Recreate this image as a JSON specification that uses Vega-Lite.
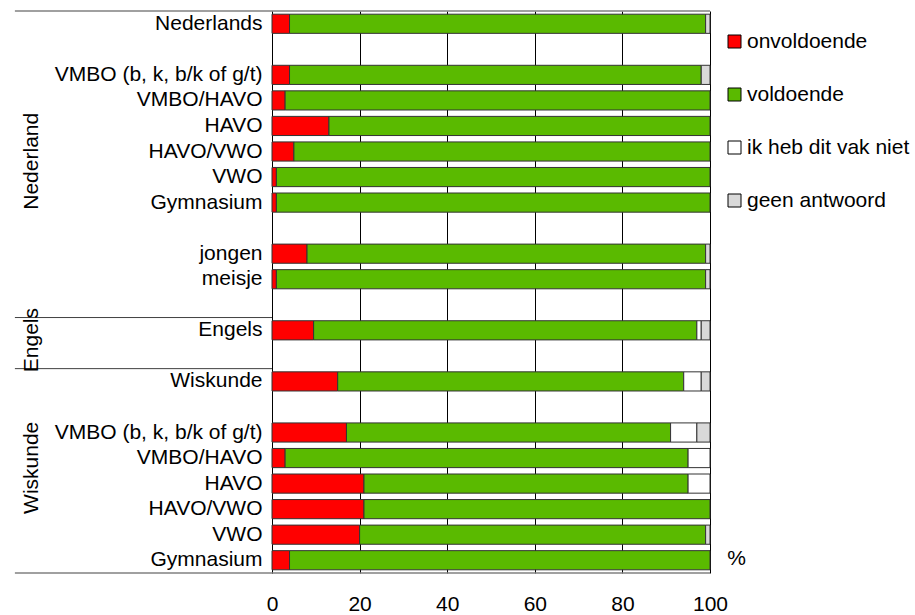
{
  "$schema": "https://vega.github.io/schema/vega-lite/v6.json",
  "width": 438,
  "height": 562,
  "padding": {"left": 14, "top": 10, "right": 0, "bottom": 0},
  "background": "white",
  "config": {
    "font": "Liberation Sans",
    "view": {"stroke": null},
    "text": {"font": "Liberation Sans"}
  },
  "datasets": {
    "bars": [
      {"row": "01 Nederlands", "cat": "onvoldoende", "val": 4},
      {"row": "01 Nederlands", "cat": "voldoende", "val": 95},
      {"row": "01 Nederlands", "cat": "geen antwoord", "val": 1},
      {"row": "03 VMBO (b, k, b/k of g/t)", "cat": "onvoldoende", "val": 4},
      {"row": "03 VMBO (b, k, b/k of g/t)", "cat": "voldoende", "val": 94},
      {"row": "03 VMBO (b, k, b/k of g/t)", "cat": "geen antwoord", "val": 2},
      {"row": "04 VMBO/HAVO", "cat": "onvoldoende", "val": 3},
      {"row": "04 VMBO/HAVO", "cat": "voldoende", "val": 97},
      {"row": "05 HAVO", "cat": "onvoldoende", "val": 13},
      {"row": "05 HAVO", "cat": "voldoende", "val": 87},
      {"row": "06 HAVO/VWO", "cat": "onvoldoende", "val": 5},
      {"row": "06 HAVO/VWO", "cat": "voldoende", "val": 95},
      {"row": "07 VWO", "cat": "onvoldoende", "val": 1},
      {"row": "07 VWO", "cat": "voldoende", "val": 99},
      {"row": "08 Gymnasium", "cat": "onvoldoende", "val": 1},
      {"row": "08 Gymnasium", "cat": "voldoende", "val": 99},
      {"row": "10 jongen", "cat": "onvoldoende", "val": 8},
      {"row": "10 jongen", "cat": "voldoende", "val": 91},
      {"row": "10 jongen", "cat": "geen antwoord", "val": 1},
      {"row": "11 meisje", "cat": "onvoldoende", "val": 1},
      {"row": "11 meisje", "cat": "voldoende", "val": 98},
      {"row": "11 meisje", "cat": "geen antwoord", "val": 1},
      {"row": "13 Engels", "cat": "onvoldoende", "val": 9.5},
      {"row": "13 Engels", "cat": "voldoende", "val": 87.5},
      {"row": "13 Engels", "cat": "ik heb dit vak niet", "val": 1},
      {"row": "13 Engels", "cat": "geen antwoord", "val": 2},
      {"row": "15 Wiskunde", "cat": "onvoldoende", "val": 15},
      {"row": "15 Wiskunde", "cat": "voldoende", "val": 79},
      {"row": "15 Wiskunde", "cat": "ik heb dit vak niet", "val": 4},
      {"row": "15 Wiskunde", "cat": "geen antwoord", "val": 2},
      {"row": "17 VMBO (b, k, b/k of g/t)", "cat": "onvoldoende", "val": 17},
      {"row": "17 VMBO (b, k, b/k of g/t)", "cat": "voldoende", "val": 74},
      {"row": "17 VMBO (b, k, b/k of g/t)", "cat": "ik heb dit vak niet", "val": 6},
      {"row": "17 VMBO (b, k, b/k of g/t)", "cat": "geen antwoord", "val": 3},
      {"row": "18 VMBO/HAVO", "cat": "onvoldoende", "val": 3},
      {"row": "18 VMBO/HAVO", "cat": "voldoende", "val": 92},
      {"row": "18 VMBO/HAVO", "cat": "ik heb dit vak niet", "val": 5},
      {"row": "19 HAVO", "cat": "onvoldoende", "val": 21},
      {"row": "19 HAVO", "cat": "voldoende", "val": 74},
      {"row": "19 HAVO", "cat": "ik heb dit vak niet", "val": 5},
      {"row": "20 HAVO/VWO", "cat": "onvoldoende", "val": 21},
      {"row": "20 HAVO/VWO", "cat": "voldoende", "val": 79},
      {"row": "21 VWO", "cat": "onvoldoende", "val": 20},
      {"row": "21 VWO", "cat": "voldoende", "val": 79},
      {"row": "21 VWO", "cat": "geen antwoord", "val": 1},
      {"row": "22 Gymnasium", "cat": "onvoldoende", "val": 4},
      {"row": "22 Gymnasium", "cat": "voldoende", "val": 96}
    ],
    "groups": [
      {"group": "Nederland", "row": "07 VWO"},
      {"group": "Engels", "row": "14"},
      {"group": "Wiskunde", "row": "19 HAVO"}
    ],
    "seps": [
      {"row": "13 Engels"},
      {"row": "15 Wiskunde"}
    ],
    "top": [{"row": "01 Nederlands"}],
    "bottom": [{"row": "22 Gymnasium"}]
  },
  "layer": [
    {
      "data": {"name": "bars"},
      "transform": [
        {"calculate": "indexof(['onvoldoende', 'voldoende', 'ik heb dit vak niet', 'geen antwoord'], datum.cat)", "as": "stackOrder"}
      ],
      "mark": {"type": "bar", "height": {"band": 0.75}, "stroke": "#333333", "strokeWidth": 1},
      "encoding": {
        "y": {
          "field": "row",
          "type": "nominal",
          "scale": {
            "domain": ["01 Nederlands", "02", "03 VMBO (b, k, b/k of g/t)", "04 VMBO/HAVO", "05 HAVO", "06 HAVO/VWO", "07 VWO", "08 Gymnasium", "09", "10 jongen", "11 meisje", "12", "13 Engels", "14", "15 Wiskunde", "16", "17 VMBO (b, k, b/k of g/t)", "18 VMBO/HAVO", "19 HAVO", "20 HAVO/VWO", "21 VWO", "22 Gymnasium"],
            "paddingInner": 0,
            "paddingOuter": 0
          },
          "axis": {
            "title": null,
            "labelExpr": "substring(datum.value, 3)",
            "labelFontSize": 21,
            "labelColor": "#000000",
            "labelPadding": 10,
            "labelLimit": 400,
            "ticks": false,
            "domainColor": "#000000",
            "domainWidth": 1
          }
        },
        "x": {
          "field": "val",
          "type": "quantitative",
          "stack": "zero",
          "scale": {"domain": [0, 100], "nice": false},
          "axis": {
            "values": [0, 20, 40, 60, 80, 100],
            "grid": true,
            "gridColor": "#000000",
            "gridOpacity": 1,
            "gridWidth": 1,
            "domain": false,
            "ticks": false,
            "labelFlush": false,
            "labelFontSize": 21,
            "labelColor": "#000000",
            "labelPadding": 20,
            "title": "%",
            "titleFontSize": 21,
            "titleFontWeight": "normal",
            "titleColor": "#000000",
            "titleX": 464,
            "titleY": -15,
            "titleAlign": "center",
            "titleBaseline": "middle",
            "titleAngle": 0
          }
        },
        "order": {"field": "stackOrder", "type": "quantitative"},
        "color": {
          "field": "cat",
          "type": "nominal",
          "sort": ["onvoldoende", "voldoende", "ik heb dit vak niet", "geen antwoord"],
          "scale": {
            "domain": ["onvoldoende", "voldoende", "ik heb dit vak niet", "geen antwoord"],
            "range": ["#ff0000", "#5aba00", "#ffffff", "#d9d9d9"]
          },
          "legend": {
            "title": null,
            "orient": "none",
            "legendX": 452,
            "legendY": 20,
            "symbolType": "square",
            "symbolSize": 169,
            "symbolStrokeColor": "#000000",
            "symbolStrokeWidth": 1,
            "symbolOpacity": 1,
            "labelFontSize": 21,
            "labelColor": "#000000",
            "labelOffset": 2,
            "rowPadding": 31,
            "labelLimit": 300
          }
        }
      }
    },
    {
      "data": {"name": "top"},
      "mark": {"type": "rule", "color": "#808080", "strokeWidth": 1.5},
      "encoding": {
        "y": {"field": "row", "type": "nominal", "bandPosition": 0},
        "x": {"datum": -58.7},
        "x2": {"datum": 100}
      }
    },
    {
      "data": {"name": "bottom"},
      "mark": {"type": "rule", "color": "#808080", "strokeWidth": 1.5},
      "encoding": {
        "y": {"field": "row", "type": "nominal", "bandPosition": 1},
        "x": {"datum": -58.7},
        "x2": {"datum": 100}
      }
    },
    {
      "data": {"name": "seps"},
      "mark": {"type": "rule", "color": "#404040", "strokeWidth": 1},
      "encoding": {
        "y": {"field": "row", "type": "nominal", "bandPosition": 0},
        "x": {"datum": -58.7},
        "x2": {"datum": 0}
      }
    },
    {
      "data": {"name": "groups"},
      "mark": {"type": "text", "angle": 270, "fontSize": 21, "align": "center", "baseline": "middle", "color": "#000000", "dx": 3},
      "encoding": {
        "y": {"field": "row", "type": "nominal", "bandPosition": 0},
        "x": {"datum": -54.8},
        "text": {"field": "group"}
      }
    }
  ]
}
